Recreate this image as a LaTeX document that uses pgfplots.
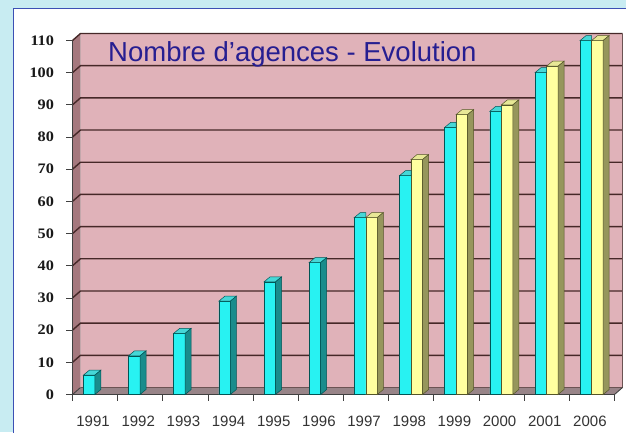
\documentclass[border=0pt]{standalone}
\usepackage{pgfplots}
\pgfplotsset{compat=1.18}
\usepackage{pgfplotstable}
\usepackage{fontspec}
\setmainfont{Liberation Sans}
\newfontfamily\serifwide{Liberation Serif}[FakeStretch=1.12]

\definecolor{outerbg}{RGB}{200,236,242}
\definecolor{panelborder}{RGB}{60,80,180}
\definecolor{wallpink}{RGB}{224,178,185}
\definecolor{leftwall}{RGB}{165,120,126}
\definecolor{floorc}{RGB}{152,132,136}
\definecolor{gridc}{RGB}{70,40,40}
\definecolor{cyanfront}{RGB}{40,242,242}
\definecolor{cyantop}{RGB}{70,215,215}
\definecolor{cyanside}{RGB}{25,140,140}
\definecolor{cyanedge}{RGB}{0,85,85}
\definecolor{yelfront}{RGB}{255,255,160}
\definecolor{yeltop}{RGB}{232,232,150}
\definecolor{yelside}{RGB}{150,150,92}
\definecolor{yeledge}{RGB}{85,85,40}
\definecolor{titleblue}{RGB}{38,30,145}

% cyan bars standing alone (1991-1996)
\pgfplotstableread{
x v
0 6
1 12
2 19
3 29
4 35
5 41
}\cyansingle
% cyan bars paired with a yellow bar (1997-2006)
\pgfplotstableread{
x v
6 55
7 68
8 83
9 88
10 100
11 110
}\cyanpair
\pgfplotstableread{
x v
6 55
7 73
8 87
9 90
10 102
11 110
}\yeldata

\pgfdeclareplotmark{cyanprism}{%
  \pgfmathsetmacro\hh{\val*3.21818}%
  \filldraw[fill=cyantop, draw=cyanedge, line width=0.5pt] (-11.75pt,0pt) -- (-0.25pt,0pt) -- (5.75pt,5pt) -- (-5.75pt,5pt) -- cycle;
  \filldraw[fill=cyanside, draw=cyanedge, line width=0.5pt] (-0.25pt,0pt) -- (5.75pt,5pt) -- (5.75pt,5pt-\hh pt) -- (-0.25pt,-\hh pt) -- cycle;
}
\pgfdeclareplotmark{cyanpairtop}{%
  \filldraw[fill=cyantop, draw=cyanedge, line width=0.5pt] (-11.75pt,0pt) -- (-0.25pt,0pt) -- (-0.25pt,5pt) -- (-5.75pt,5pt) -- cycle;
}
\pgfdeclareplotmark{yelprism}{%
  \pgfmathsetmacro\hh{\val*3.21818}%
  \filldraw[fill=yeltop, draw=yeledge, line width=0.5pt] (-0.25pt,0pt) -- (11.25pt,0pt) -- (17.25pt,5pt) -- (5.75pt,5pt) -- cycle;
  \filldraw[fill=yelside, draw=yeledge, line width=0.5pt] (11.25pt,0pt) -- (17.25pt,5pt) -- (17.25pt,5pt-\hh pt) -- (11.25pt,-\hh pt) -- cycle;
}

\begin{document}
\begin{tikzpicture}
\useasboundingbox (0,0) rectangle (626pt,432pt);
\fill[outerbg] (0,0) rectangle (626pt,432pt);
\filldraw[fill=white, draw=panelborder, line width=0.8pt] (13pt,-5pt) rectangle (640pt,424pt);
\begin{axis}[
  at={(72.5pt,37.5pt)}, anchor=south west,
  scale only axis, width=542pt, height=354pt,
  xmin=-0.5, xmax=11.5, ymin=0, ymax=110,
  clip=false,
  axis line style={draw=none},
  xtick={-0.5,0.5,...,11.5},
  x tick label as interval,
  xticklabels={1991,1992,1993,1994,1995,1996,1997,1998,1999,2000,2001,2006},
  ytick={0,10,...,110},
  xtick pos=bottom, ytick pos=left,
  tick align=outside, major tick length=6pt,
  tick style={draw=black!75, line width=0.8pt},
  /pgf/number format/assume math mode=true,
  xticklabel style={font=\fontsize{15}{17}\selectfont, text=black!80, yshift=-12pt, xshift=-2pt},
  yticklabel style={font=\serifwide\bfseries\fontsize{14.5}{16}\selectfont, text=black!90, xshift=-9pt},
]
% walls
\fill[floorc] (axis cs:-0.5,0) -- (axis cs:11.5,0) -- ([shift={(8pt,7pt)}]axis cs:11.5,0) -- ([shift={(8pt,7pt)}]axis cs:-0.5,0) -- cycle;
\fill[wallpink] ([shift={(8pt,7pt)}]axis cs:-0.5,0) rectangle ([shift={(8pt,7pt)}]axis cs:11.5,110);
\fill[leftwall] (axis cs:-0.5,0) -- (axis cs:-0.5,110) -- ([shift={(8pt,7pt)}]axis cs:-0.5,110) -- ([shift={(8pt,7pt)}]axis cs:-0.5,0) -- cycle;
\pgfplotsinvokeforeach{10,20,...,110}{
  \draw[gridc, line width=1.4pt] (axis cs:-0.5,#1) -- ([shift={(8pt,7pt)}]axis cs:-0.5,#1) -- ([shift={(8pt,7pt)}]axis cs:11.5,#1);
}
\draw[gridc!80, line width=0.8pt] ([shift={(8pt,7pt)}]axis cs:11.5,0) -- ([shift={(8pt,7pt)}]axis cs:11.5,110);
\draw[gridc!80, line width=0.8pt] ([shift={(8pt,7pt)}]axis cs:-0.5,0) -- ([shift={(8pt,7pt)}]axis cs:11.5,0);
\draw[black!75, line width=0.9pt] (axis cs:-0.5,110) -- (axis cs:-0.5,0) -- (axis cs:11.5,0) -- ([shift={(8pt,7pt)}]axis cs:11.5,0);
\draw[black!75, line width=0.9pt] (axis cs:-0.5,0) -- ([shift={(8pt,7pt)}]axis cs:-0.5,0);
% cyan bars
\addplot[ybar, bar width=11.5pt, bar shift=-6pt, fill=cyanfront, draw=cyanedge, line width=0.5pt] table[x=x, y=v] {\cyansingle};
\addplot[only marks, mark=cyanprism, visualization depends on={\thisrow{v} \as \val}] table[x=x, y=v] {\cyansingle};
\addplot[ybar, bar width=11.5pt, bar shift=-6pt, fill=cyanfront, draw=cyanedge, line width=0.5pt] table[x=x, y=v] {\cyanpair};
\addplot[only marks, mark=cyanpairtop] table[x=x, y=v] {\cyanpair};
% yellow bars
\addplot[ybar, bar width=11.5pt, bar shift=5.5pt, fill=yelfront, draw=yeledge, line width=0.5pt] table[x=x, y=v] {\yeldata};
\addplot[only marks, mark=yelprism, visualization depends on={\thisrow{v} \as \val}] table[x=x, y=v] {\yeldata};
\end{axis}
\node[anchor=base west, inner sep=0pt, text=titleblue, font=\fontsize{27.5}{30}\selectfont] at (108pt,370pt) {Nombre d’agences - Evolution};
\end{tikzpicture}
\end{document}
